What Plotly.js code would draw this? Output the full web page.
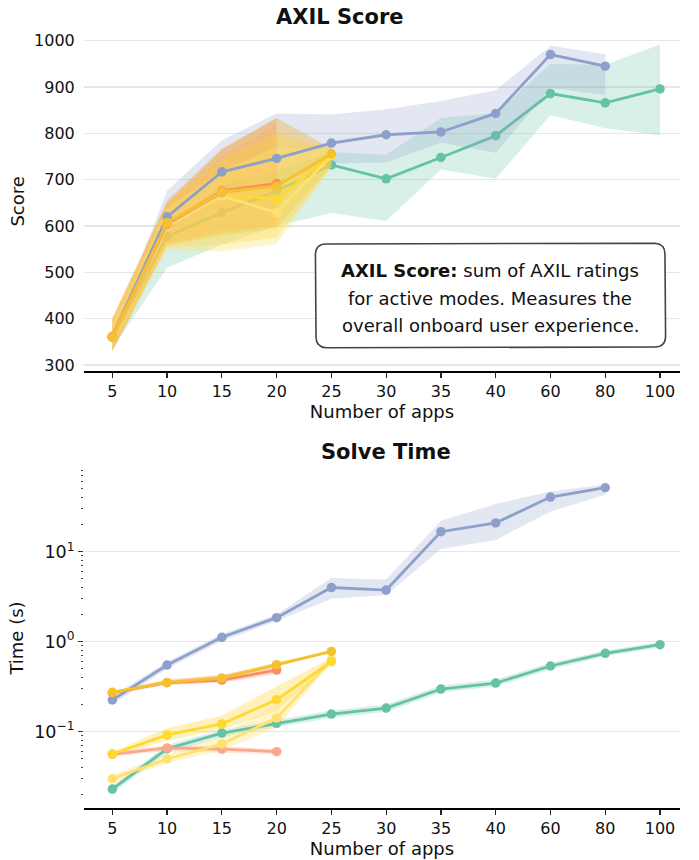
<!DOCTYPE html>
<html>
<head>
<meta charset="utf-8">
<script src="https://cdn.plot.ly/plotly-3.0.1.min.js"></script>
<style>html,body{margin:0;padding:0;background:#fff;}#chart{width:699px;height:860px;}</style>
</head>
<body>
<div id="chart"></div>
<script>
// ---------- data ----------
const apps = ['5','10','15','20','25','30','35','40','60','80','100'];

// AXIL score (top panel)
const blueScore     = [362, 620, 717, 746, 779, 797, 803, 843, 970, 945];
const blueScoreLo   = [352, 585, 680, 690, 735, 737, 780, 758, 898, 883];
const blueScoreHi   = [372, 676, 785, 843, 841, 852, 870, 893, 989, 971];
const greenScore    = [360, 578, 629, 676, 732, 702, 748, 795, 886, 866, 896];
const greenScoreLo  = [335, 510, 560, 600, 628, 611, 722, 702, 839, 811, 796];
const greenScoreHi  = [375, 600, 690, 720, 760, 754, 833, 844, 950, 948, 992];
const orangeScore   = [360, 605, 676, 692];
const orangeScoreLo = [330, 560, 585, 600];
const orangeScoreHi = [400, 650, 765, 833];
const salmonScore   = [360, 603, 672, 688];
const salmonScoreLo = [335, 565, 590, 605];
const salmonScoreHi = [395, 645, 750, 820];
const goldScore     = [360, 607, 674, 686, 756];
const goldScoreLo   = [328, 558, 580, 595, 730];
const goldScoreHi   = [402, 655, 767, 833, 768];
const yellowScore   = [360, 605, 670, 657, 754];
const yellowScoreLo = [335, 555, 560, 575, 728];
const yellowScoreHi = [395, 650, 745, 800, 765];
const lightScore    = [360, 600, 665, 629, 752];
const lightScoreLo  = [340, 548, 545, 561, 726];
const lightScoreHi  = [390, 640, 720, 770, 765];

// Solve time in seconds (bottom panel)
const blueTime     = [0.225, 0.55, 1.12, 1.85, 4.0, 3.75, 16.7, 20.9, 40.5, 51.4];
const blueTimeLo   = [0.20, 0.50, 1.02, 1.70, 3.0, 3.3, 10.7, 13.5, 28, 43];
const blueTimeHi   = [0.25, 0.60, 1.22, 2.00, 5.1, 4.9, 22, 34, 46.8, 56];
const greenTime    = [0.023, 0.0646, 0.0966, 0.124, 0.157, 0.183, 0.298, 0.347, 0.537, 0.742, 0.926];
const greenTimeLo  = [0.021, 0.058, 0.087, 0.112, 0.143, 0.166, 0.272, 0.318, 0.49, 0.69, 0.86];
const greenTimeHi  = [0.025, 0.071, 0.106, 0.136, 0.172, 0.2, 0.326, 0.38, 0.585, 0.8, 0.99];
const orangeTime   = [0.270, 0.350, 0.375, 0.484];
const orangeTimeLo = [0.260, 0.330, 0.350, 0.440];
const orangeTimeHi = [0.280, 0.380, 0.430, 0.560];
const goldTime     = [0.274, 0.353, 0.394, 0.555, 0.78];
const goldTimeLo   = [0.265, 0.340, 0.380, 0.530, 0.76];
const goldTimeHi   = [0.285, 0.370, 0.420, 0.590, 0.80];
const yellowTime   = [0.0565, 0.092, 0.122, 0.227, 0.60];
const yellowTimeLo = [0.053, 0.080, 0.105, 0.170, 0.56];
const yellowTimeHi = [0.060, 0.110, 0.150, 0.320, 0.66];
const salmonTime   = [0.056, 0.066, 0.064, 0.060];
const salmonTimeLo = [0.053, 0.061, 0.059, 0.056];
const salmonTimeHi = [0.059, 0.071, 0.069, 0.064];
const lightTime    = [0.030, 0.0497, 0.073, 0.142, 0.625];
const lightTimeLo  = [0.027, 0.045, 0.062, 0.110, 0.58];
const lightTimeHi  = [0.033, 0.056, 0.090, 0.200, 0.67];

const timeTickVals = [0.1, 1, 10];
const timeTickText = ['10<sup>\u22121</sup>', '10<sup>0</sup>', '10<sup>1</sup>'];
const scoreTickVals = [300, 400, 500, 600, 700, 800, 900, 1000];

// ---------- styles ----------
const C = {
  blue:   ['#8da0cb', 'rgba(141,160,203,0.25)'],
  green:  ['#66c2a5', 'rgba(102,194,165,0.25)'],
  orange: ['#fc8d62', 'rgba(252,141,98,0.3)'],
  salmon: ['#fca68a', 'rgba(252,166,138,0.28)'],
  gold:   ['#f5c22e', 'rgba(238,178,40,0.36)'],
  yellow: ['#ffd92f', 'rgba(255,210,47,0.32)'],
  light:  ['#ffe170', 'rgba(255,225,110,0.35)']
};

function band(lo, hi, col, xa, ya) {
  const n = lo.length;
  const xs = apps.slice(0, n).concat(apps.slice(0, n).reverse());
  const ys = hi.concat(lo.slice().reverse());
  return {x: xs, y: ys, type: 'scatter', mode: 'lines', fill: 'toself',
    fillcolor: C[col][1], line: {width: 0}, hoverinfo: 'skip', showlegend: false,
    xaxis: xa, yaxis: ya};
}
function line(vals, col, xa, ya) {
  return {x: apps.slice(0, vals.length), y: vals, type: 'scatter', mode: 'lines+markers',
    line: {color: C[col][0], width: 2.8}, marker: {color: C[col][0], size: 9.5},
    showlegend: false, xaxis: xa, yaxis: ya};
}

const traces = [
  band(greenScoreLo, greenScoreHi, 'green', 'x', 'y'),
  line(greenScore, 'green', 'x', 'y'),
  band(blueScoreLo, blueScoreHi, 'blue', 'x', 'y'),
  band(orangeScoreLo, orangeScoreHi, 'orange', 'x', 'y'),
  band(salmonScoreLo, salmonScoreHi, 'salmon', 'x', 'y'),
  band(goldScoreLo, goldScoreHi, 'gold', 'x', 'y'),
  band(yellowScoreLo, yellowScoreHi, 'yellow', 'x', 'y'),
  band(lightScoreLo, lightScoreHi, 'light', 'x', 'y'),
  line(blueScore, 'blue', 'x', 'y'),
  line(lightScore, 'light', 'x', 'y'),
  line(yellowScore, 'yellow', 'x', 'y'),
  line(salmonScore, 'salmon', 'x', 'y'),
  line(orangeScore, 'orange', 'x', 'y'),
  line(goldScore, 'gold', 'x', 'y'),

  band(greenTimeLo, greenTimeHi, 'green', 'x2', 'y2'),
  band(blueTimeLo, blueTimeHi, 'blue', 'x2', 'y2'),
  band(orangeTimeLo, orangeTimeHi, 'orange', 'x2', 'y2'),
  band(salmonTimeLo, salmonTimeHi, 'salmon', 'x2', 'y2'),
  band(goldTimeLo, goldTimeHi, 'gold', 'x2', 'y2'),
  band(yellowTimeLo, yellowTimeHi, 'yellow', 'x2', 'y2'),
  band(lightTimeLo, lightTimeHi, 'light', 'x2', 'y2'),
  line(greenTime, 'green', 'x2', 'y2'),
  line(blueTime, 'blue', 'x2', 'y2'),
  line(salmonTime, 'salmon', 'x2', 'y2'),
  line(lightTime, 'light', 'x2', 'y2'),
  line(yellowTime, 'yellow', 'x2', 'y2'),
  line(orangeTime, 'orange', 'x2', 'y2'),
  line(goldTime, 'gold', 'x2', 'y2')
];

const FONT = 'DejaVu Sans, sans-serif';
const xBase = {
  type: 'category', categoryorder: 'array', categoryarray: apps,
  range: [-0.517, 10.365], showgrid: false, zeroline: false,
  showline: true, linecolor: '#000', linewidth: 2,
  ticks: 'outside', ticklen: 5, tickwidth: 1.2, tickcolor: '#222',
  tickfont: {family: FONT, size: 16, color: '#111'},
  title: {text: 'Number of apps', font: {family: FONT, size: 18, color: '#111'}, standoff: 3}
};

// rounded, slightly hand-drawn box (paper coords)
const bx0 = 0.3893, bx1 = 0.9748, by0 = 0.5941, by1 = 0.7268, rx = 0.0168, ry = 0.0129;
const boxPath = `M ${bx0+rx},${by1} L ${bx1-rx},${by1+0.001} Q ${bx1},${by1} ${bx1},${by1-ry} ` +
  `L ${bx1+0.001},${by0+ry} Q ${bx1},${by0} ${bx1-rx},${by0} L ${bx0+rx},${by0-0.001} ` +
  `Q ${bx0},${by0} ${bx0},${by0+ry} L ${bx0-0.001},${by1-ry} Q ${bx0},${by1} ${bx0+rx},${by1} Z`;

const layout = {
  width: 699, height: 860,
  margin: {l: 84, r: 19, t: 32, b: 52},
  paper_bgcolor: '#fff', plot_bgcolor: '#fff',
  font: {family: FONT, color: '#111'},
  showlegend: false,
  xaxis: Object.assign({}, xBase, {anchor: 'y'}),
  yaxis: {
    domain: [0.5635, 1], anchor: 'x', range: [287.7, 1018.8],
    tickvals: scoreTickVals, showgrid: true, gridcolor: '#e6e6e6', gridwidth: 1.2,
    zeroline: false, showline: false, ticks: 'outside', ticklen: 5, tickcolor: 'rgba(0,0,0,0)',
    tickfont: {family: FONT, size: 16, color: '#111'},
    title: {text: 'Score', font: {family: FONT, size: 18, color: '#111'}, standoff: 4}
  },
  xaxis2: Object.assign({}, xBase, {anchor: 'y2'}),
  yaxis2: {
    domain: [0, 0.4381], anchor: 'x2', type: 'log', range: [-1.848, 1.930],
    tickvals: timeTickVals, ticktext: timeTickText,
    showgrid: true, gridcolor: '#e6e6e6', gridwidth: 1.2,
    zeroline: false, showline: false, ticks: 'outside', ticklen: 5, tickcolor: '#333',
    tickfont: {family: FONT, size: 17.5, color: '#111'},
    minor: {ticks: 'outside', ticklen: 2.5, tickcolor: '#444', tickwidth: 1, dtick: 'D1', showgrid: false},
    title: {text: 'Time (s)', font: {family: FONT, size: 18, color: '#111'}, standoff: 5}
  },
  shapes: [
    {type: 'path', xref: 'paper', yref: 'paper', path: boxPath,
     fillcolor: '#fff', line: {color: '#444', width: 1.6}, layer: 'above'}
  ],
  annotations: [
    {xref: 'paper', yref: 'paper', x: (340 - 84) / 596, y: (808 - 17) / 776, text: '<b>AXIL Score</b>',
     showarrow: false, font: {family: FONT, size: 21, color: '#111'}, xanchor: 'center', yanchor: 'middle'},
    {xref: 'paper', yref: 'paper', x: (386 - 84) / 596, y: (808 - 452) / 776, text: '<b>Solve Time</b>',
     showarrow: false, font: {family: FONT, size: 21, color: '#111'}, xanchor: 'center', yanchor: 'middle'},
    {xref: 'paper', yref: 'paper', x: 0.682, y: (808 - 270) / 776, text: '<b>AXIL Score:</b> sum of AXIL ratings',
     showarrow: false, font: {family: FONT, size: 18, color: '#111'}, xanchor: 'center', yanchor: 'middle'},
    {xref: 'paper', yref: 'paper', x: 0.682, y: (808 - 298) / 776, text: 'for active modes. Measures the',
     showarrow: false, font: {family: FONT, size: 18, color: '#111'}, xanchor: 'center', yanchor: 'middle'},
    {xref: 'paper', yref: 'paper', x: 0.682, y: (808 - 325) / 776, text: 'overall onboard user experience.',
     showarrow: false, font: {family: FONT, size: 18, color: '#111'}, xanchor: 'center', yanchor: 'middle'}
  ]
};

Plotly.newPlot('chart', traces, layout, {staticPlot: true, displayModeBar: false});
</script>
</body>
</html>
